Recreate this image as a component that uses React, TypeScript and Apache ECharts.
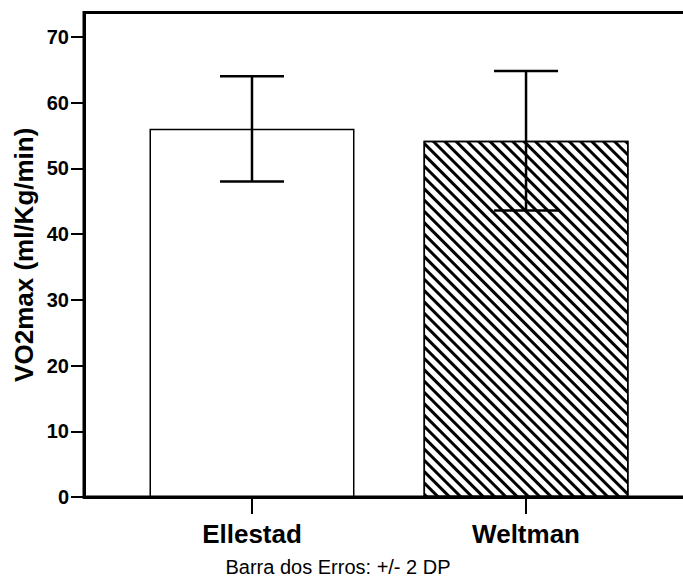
import React, { useEffect, useRef } from "react";
import * as echarts from "echarts";

const categories = ["Ellestad", "Weltman"];
const means = [56, 54.2];
const errors = [8, 10.6]; // +/- 2 DP
const yTicks = [0, 10, 20, 30, 40, 50, 60, 70];
const yTitle = "VO2max (ml/Kg/min)";
const footer = "Barra dos Erros: +/- 2 DP";

const FONT = "'Liberation Sans', Arial, sans-serif";

export default function App() {
  const ref = useRef<HTMLDivElement>(null);
  useEffect(() => {
    document.body.style.margin = "0";
    const chart = echarts.init(ref.current!, null, { renderer: "svg" });
    const barData = means.map((m, i) => {
      const base: any = { value: [i, m] };
      if (i === 0) {
        base.itemStyle = { color: "#fff", borderColor: "#000", borderWidth: 1.5 };
      } else {
        base.itemStyle = {
          color: "#fff",
          borderColor: "#000",
          borderWidth: 1.5,
          decal: {
            symbol: "rect",
            symbolSize: 1,
            dashArrayX: [1, 0],
            dashArrayY: [2.7, 4.6],
            rotation: Math.PI / 4,
            color: "#000",
            backgroundColor: "#fff",
          },
        };
      }
      return base;
    });
    const errData = means.map((m, i) => [i, m - errors[i], m + errors[i]]);
    chart.setOption({
      animation: false,
      grid: {
        left: 84,
        right: -5,
        top: 12.5,
        bottom: 81,
        show: true,
        borderColor: "#000",
        borderWidth: 3,
        containLabel: false,
        outerBoundsMode: "none",
      },
      xAxis: {
        type: "value",
        min: -0.613,
        max: 1.591,
        splitLine: { show: false },
        axisLine: { show: true, onZero: false, lineStyle: { color: "#000", width: 3 } },
        axisTick: {
          show: true,
          customValues: [0, 1],
          length: 17,
          lineStyle: { color: "#000", width: 2 },
        },
        axisLabel: {
          customValues: [0, 1],
          formatter: (v: number) => categories[Math.round(v)] ?? "",
          fontFamily: FONT,
          fontWeight: "bold",
          fontSize: 26,
          color: "#000",
          margin: 24,
        },
      },
      yAxis: {
        type: "value",
        min: 0,
        max: 73.7,
        interval: 10,
        name: yTitle,
        nameLocation: "middle",
        nameGap: 47,
        nameRotate: 90,
        nameMoveOverlap: false,
        nameTextStyle: {
          fontFamily: FONT,
          fontWeight: "bold",
          fontSize: 26,
          color: "#000",
        },
        splitLine: { show: false },
        axisLine: { show: true, onZero: false, lineStyle: { color: "#000", width: 3 } },
        axisTick: {
          show: true,
          customValues: yTicks,
          length: 13,
          lineStyle: { color: "#000", width: 2 },
        },
        axisLabel: {
          customValues: yTicks,
          fontFamily: FONT,
          fontWeight: "bold",
          fontSize: 20,
          color: "#000",
          margin: 15,
          padding: [10, 0, 0, 0],
        },
      },
      graphic: [
        {
          type: "text",
          x: 338,
          y: 567,
          style: {
            text: footer,
            fontFamily: FONT,
            fontSize: 20,
            fill: "#000",
            textAlign: "center",
            textVerticalAlign: "middle",
          },
        },
      ],
      series: [
        {
          type: "bar",
          data: barData,
          barWidth: 205,
        },
        {
          type: "custom",
          data: errData,
          z: 10,
          renderItem: (params: any, api: any) => {
            const x = api.value(0);
            const lo = api.coord([x, api.value(1)]);
            const hi = api.coord([x, api.value(2)]);
            const hw = 32;
            const style = { stroke: "#000", lineWidth: 2.5 };
            return {
              type: "group",
              children: [
                { type: "line", shape: { x1: lo[0], y1: lo[1], x2: hi[0], y2: hi[1] }, style },
                { type: "line", shape: { x1: lo[0] - hw, y1: lo[1], x2: lo[0] + hw, y2: lo[1] }, style },
                { type: "line", shape: { x1: hi[0] - hw, y1: hi[1], x2: hi[0] + hw, y2: hi[1] }, style },
              ],
            };
          },
        },
      ],
    });
    return () => chart.dispose();
  }, []);
  return <div ref={ref} style={{ width: 683, height: 578 }} />;
}
